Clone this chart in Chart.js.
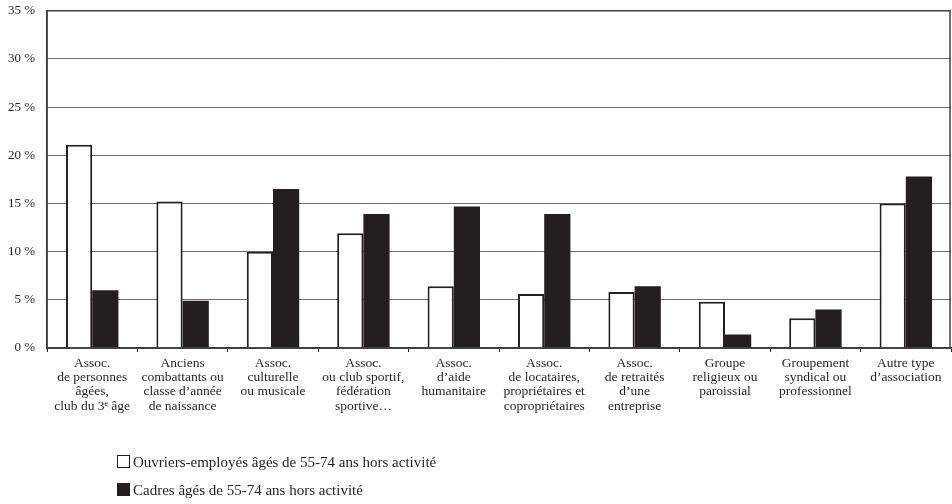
<!DOCTYPE html>
<html>
<head>
<meta charset="utf-8">
<script src="https://cdn.jsdelivr.net/npm/chart.js@4"></script>
<style>
  html, body { margin: 0; padding: 0; background: #fff; }
  #wrap { position: relative; width: 952px; height: 504px; overflow: hidden; }
  #chart { position: absolute; left: 0; top: -9px; }
  #legend { position: absolute; left: 117px; top: 450px; font-family: "Liberation Serif", serif; font-size: 15px; color: #231f20; }
  #legend div { height: 28px; line-height: 24px; }
  #legend span.box { display: inline-block; width: 11px; height: 11px; border: 1px solid #231f20; margin-right: 3px; vertical-align: -1px; }
</style>
</head>
<body>
<div id="wrap">
  <canvas id="chart" width="952" height="513"></canvas>
  <div id="legend"></div>
</div>
<script>
var categories = [
    ["Assoc.", "de personnes", "âgées,", "club du 3ᵉ âge"],
    ["Anciens", "combattants ou", "classe d’année", "de naissance"],
    ["Assoc.", "culturelle", "ou musicale"],
    ["Assoc.", "ou club sportif,", "fédération", "sportive…"],
    ["Assoc.", "d’aide", "humanitaire"],
    ["Assoc.", "de locataires,", "propriétaires et", "copropriétaires"],
    ["Assoc.", "de retraités", "d’une", "entreprise"],
    ["Groupe", "religieux ou", "paroissial"],
    ["Groupement", "syndical ou", "professionnel"],
    ["Autre type", "d’association"]
]
var seriesNames = [
    "Ouvriers-employés âgés de 55-74 ans hors activité",
    "Cadres âgés de 55-74 ans hors activité"
]
var ouvriers = [21.1, 15.2, 10.0, 11.9, 6.4, 5.6, 5.8, 4.8, 3.1, 15.0]
var cadres = [6.0, 4.9, 16.5, 13.9, 14.7, 13.9, 6.4, 1.4, 4.0, 17.8]
var yTicks = [0, 5, 10, 15, 20, 25, 30, 35]

var ink = "#231f20"
var font = "Liberation Serif"

// frame around the plot area (top and right edges)
var frame = {
    id: 'frame',
    afterDatasetsDraw: function(chart) {
        var a = chart.chartArea
        var ctx = chart.ctx
        ctx.save()
        ctx.strokeStyle = "#444"
        ctx.lineWidth = 1.5
        ctx.strokeRect(a.left, a.top, a.right - a.left - 1, a.bottom - a.top)
        ctx.restore()
    }
}

var canvasElement = document.getElementById("chart")
var configure = {
    type: "bar",
    data: {
        labels: categories,
        datasets: [{
            label: seriesNames[0],
            backgroundColor: "#ffffff",
            borderColor: ink,
            borderWidth: 2,
            data: ouvriers
        }, {
            label: seriesNames[1],
            backgroundColor: ink,
            borderColor: ink,
            borderWidth: 0,
            data: cadres
        }]
    },
    options: {
        responsive: false,
        animation: false,
        layout: { padding: { top: 0, right: 1, left: 0, bottom: 0 } },
        plugins: {
            legend: { display: false },
            tooltip: { enabled: false }
        },
        datasets: {
            bar: { barPercentage: 1, categoryPercentage: 0.58 }
        },
        scales: {
            x: {
                grid: { display: true, drawOnChartArea: false, drawTicks: true, tickLength: 4, color: ink, offset: true },
                border: { color: ink, width: 1.5 },
                ticks: {
                    color: ink,
                    maxRotation: 0,
                    autoSkip: false,
                    padding: 4,
                    font: { family: font, size: 13.5, lineHeight: 1.06 }
                },
                afterFit: function(scale) { scale.height = 156 }
            },
            y: {
                min: 0,
                max: 35,
                afterBuildTicks: function(scale) {
                    scale.ticks = yTicks.map(function(v) { return { value: v } })
                },
                grid: { color: "#6e6e6e", lineWidth: 1, drawTicks: false },
                border: { color: ink, width: 1.5 },
                ticks: {
                    color: ink,
                    padding: 12,
                    font: { family: font, size: 13 },
                    callback: function(v) { return v + " %" }
                },
                afterFit: function(scale) { scale.width = 47 }
            }
        }
    },
    plugins: [frame]
}

var reportChart = new Chart(canvasElement, configure)

var legend = document.getElementById("legend")
configure.data.datasets.forEach(function(ds) {
    var row = document.createElement("div")
    var box = document.createElement("span")
    box.className = "box"
    box.style.background = ds.backgroundColor
    row.appendChild(box)
    row.appendChild(document.createTextNode(ds.label))
    legend.appendChild(row)
})
</script>
</body>
</html>
